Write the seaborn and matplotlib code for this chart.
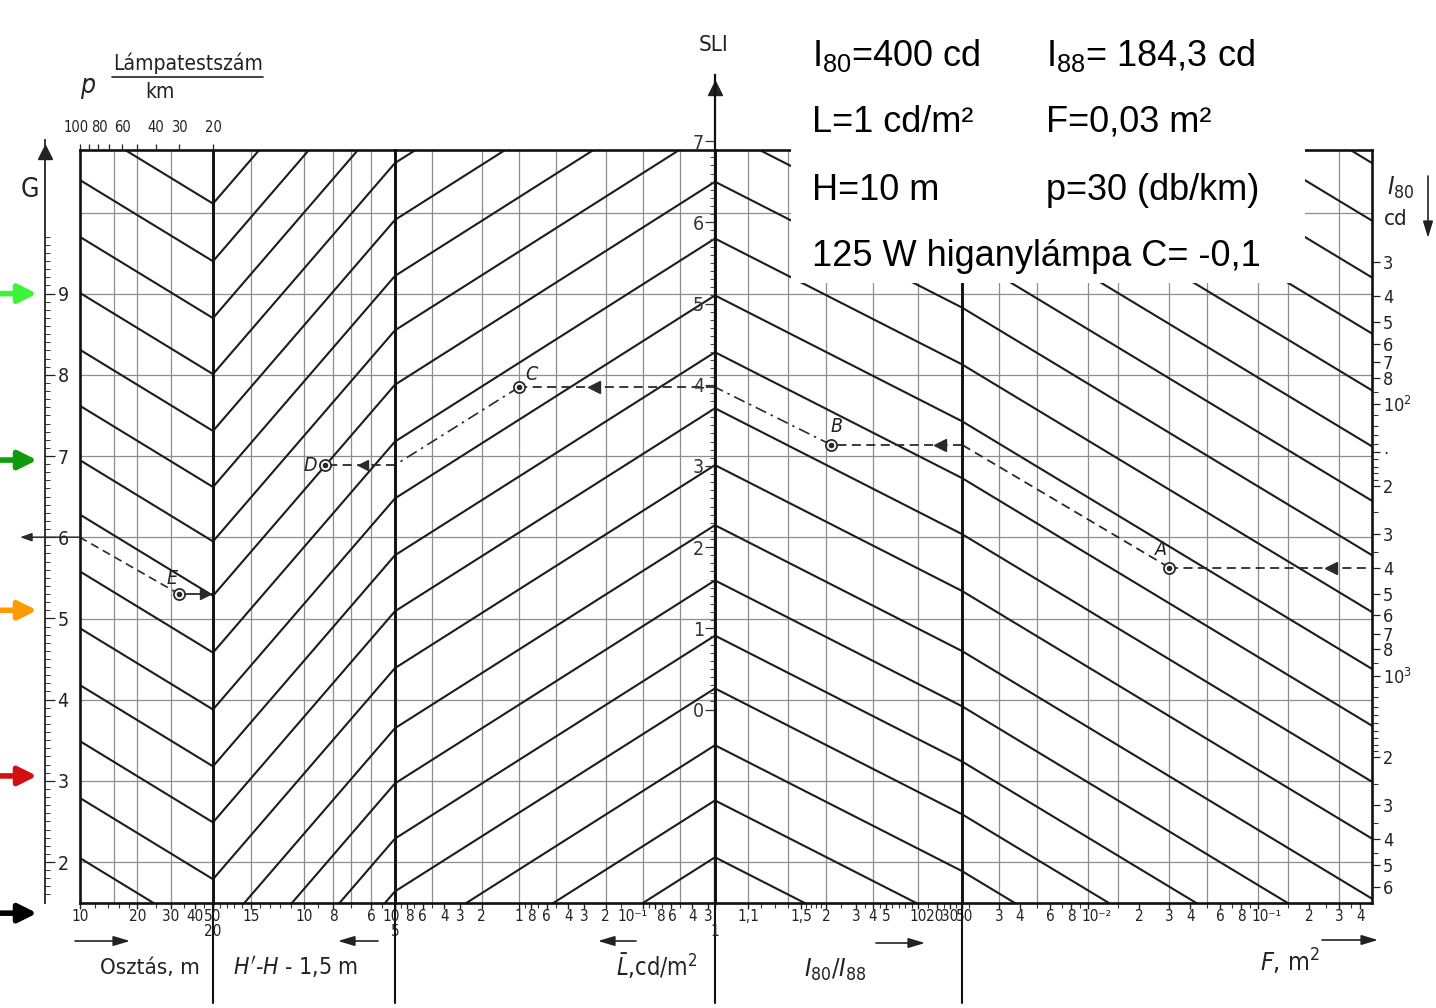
import numpy as np
import pandas as pd
import matplotlib
matplotlib.use("Agg")
import matplotlib.pyplot as plt
from matplotlib import font_manager
from matplotlib.patches import Rectangle
from matplotlib.lines import Line2D
from matplotlib.ticker import NullFormatter
import seaborn as sns


# ////////////////////// DATA

# chevron peaks of the line family on the SLI axis
peak_sli = [11.33, 10.62, 9.92, 9.23, 8.53, 7.84, 7.17, 6.50, 5.80, 5.10,
            4.40, 3.71, 3.01, 2.27, 1.59, 0.91, 0.26, -0.44, -1.12, -1.82]
# change of SLI across each panel, left edge -> right edge
panel_delta = [-1.0, 2.6, 2.5, -1.55, -3.05]

# value at the left / right edge of each panel
osztas_range = [10, 50]
hh_range = [20, 5]
lum_range = [10, 0.0263]
ratio_range = [1, 50]
area_range = [0.00182, 0.468]

# the I80/I88 scale is not logarithmic: values and distance (px) from the SLI axis
ratio_vals = [1, 1.1, 1.5, 2, 3, 4, 5, 10, 20, 30, 50]
ratio_pos = [0, 33, 86, 111, 141, 158, 171, 203, 222, 235, 247]

# vertical grid lines of the panels
osztas_grid = [15, 20, 30]
hh_grid = [15, 10, 8, 7, 6]
lum_grid = [5, 2, 1, 0.5, 0.2, 0.1, 0.05]
ratio_grid = [1.1, 1.4, 2, 4, 10]
area_grid = [0.003, 0.005, 0.01, 0.015, 0.03, 0.05, 0.1, 0.15, 0.3]
# horizontal grid lines sit on whole G values
g_grid = [2, 3, 4, 5, 6, 7, 8, 9, 10]
g_offset = 3.88  # G = SLI + g_offset

# bottom scales
osztas_ticks = [10, 20, 30, 40, 50]
osztas_labels = ["10", "20", "30", "40", "50"]
osztas_minor = [12, 14, 16, 18, 25, 35, 45]

hh_ticks = [20, 15, 10, 8, 6, 5]
hh_labels = ["20", "15", "10", "8", "6", "5"]
hh_minor = [19, 18, 17, 16, 14, 13, 12, 11, 9, 7, 5.5]

lum_ticks = [10, 8, 6, 4, 3, 2, 1, 0.8, 0.6, 0.4, 0.3, 0.2, 0.1, 0.08, 0.06, 0.04, 0.03]
lum_labels = ["10", "8", "6", "4", "3", "2", "1", "8", "6", "4", "3", "2",
              "10⁻¹", "8", "6", "4", "3"]
lum_minor = [9, 7, 5, 0.9, 0.7, 0.5, 0.15, 0.09, 0.07, 0.05]

ratio_ticks = [1, 1.1, 1.5, 2, 3, 4, 5, 10, 20, 30, 50]
ratio_labels = ["1", "1,1", "1,5", "2", "3", "4", "5", "10", "20", "30", "50"]
ratio_minor = [1.2, 1.3, 1.4, 1.6, 1.7, 1.8, 1.9, 2.5, 3.5, 4.5, 6, 7, 8, 9, 15, 25, 40]

area_ticks = [0.003, 0.004, 0.006, 0.008, 0.01, 0.02, 0.03, 0.04, 0.06, 0.08, 0.1, 0.2, 0.3, 0.4]
area_labels = ["3", "4", "6", "8", "10⁻²", "2", "3", "4", "6", "8", "10⁻¹", "2", "3", "4"]
area_minor = [0.002, 0.005, 0.007, 0.009, 0.015, 0.05, 0.07, 0.09, 0.15, 0.25, 0.35]

# top scale: lamps per km
p_ticks = [100, 80, 60, 40, 30, 20]
p_labels = ["100", "80", "60", "40", "30", "20"]
p_minor = [90, 70, 50]

# right scale: I80 in cd
i80_ticks = [30, 40, 50, 60, 70, 80, 100, 150, 200, 300, 400, 500, 600, 700, 800,
             1000, 2000, 3000, 4000, 5000, 6000]
i80_labels = ["3", "4", "5", "6", "7", "8", "$10^2$", "·", "2", "3", "4", "5", "6", "7", "8",
              "$10^3$", "2", "3", "4", "5", "6"]
i80_minor = [90, 110, 120, 130, 140, 160, 170, 180, 190, 250, 350, 900,
             1100, 1200, 1300, 1400, 1500, 1600, 1700, 1800, 1900, 2500, 3500, 4500]

g_ticks = [2, 3, 4, 5, 6, 7, 8, 9]
sli_ticks = [0, 1, 2, 3, 4, 5, 6, 7]

# worked example (dashed path A -> E)
i80_value = 400
area_value = 0.03
ratio_value = 2.17
lum_value = 1.0
hh_value = 8.5
osztas_value = 33.3
g_value = 6.0
sli_A = 1.75
sli_B = 3.26
sli_C = 3.97
sli_D = 3.01
sli_E = 1.42

# coloured markers on the left edge (G values)
marker_g = [9.0, 6.95, 5.1, 3.06, 1.37]
marker_colors = ["#3af53a", "#109a10", "#ff9a00", "#d21010", "#000000"]

box_lines = [
    (r"I$_{80}$=400 cd", r"I$_{88}$= 184,3 cd"),
    ("L=1 cd/m²", "F=0,03 m²"),
    ("H=10 m", "p=30 (db/km)"),
]
box_last = "125 W higanylámpa C= -0,1"


# ////////////////////// LAYOUT (pixels of the 1436x1008 picture)

W, H, DPI = 1436, 1008, 100
FR_T, FR_B = 150, 903
BOUNDS = [80, 213, 395, 715, 962, 1372]
SLI0_PX, SLI_UNIT = 709.5, 81.2
G2_PX = 862

LINE_C = "#1c1c1c"
GRID_C = "#8e8e8e"

# crowded scale labels: index -> (shift in points, alignment, row)
hh_place = {0: (0, "center", 1), 5: (0, "center", 1)}
lum_place = {0: (-2.5, "center", 0), 1: (1.5, "center", 0), 12: (3, "right", 0),
             13: (4, "center", 0), 14: (1.5, "center", 0)}
ratio_place = {0: (0, "center", 1), 8: (-1.5, "center", 0), 10: (2, "center", 0)}
area_place = {4: (-4.5, "left", 0), 10: (-4.5, "left", 0)}
p_place = {0: (-3, "center", 0), 1: (1, "center", 0)}


def fx(px):
    return px / W


def fy(py):
    return 1 - py / H


def sli_at(py):
    return (SLI0_PX - py) / SLI_UNIT


def g_at(py):
    return 2 + (G2_PX - py) / SLI_UNIT


def i80_at(py):
    return 100 * 10 ** ((py - 404) / 271.6)


# pick a narrow face for the drawing's lettering if one is installed
installed = {(f.name, f.stretch) for f in font_manager.fontManager.ttflist}
names = {n for n, _ in installed}
if "Liberation Sans Narrow" in names:
    SCAN_FONT, SCAN_STRETCH = "Liberation Sans Narrow", "normal"
elif ("DejaVu Sans", "condensed") in installed:
    SCAN_FONT, SCAN_STRETCH = "DejaVu Sans", "condensed"
else:
    SCAN_FONT, SCAN_STRETCH = "Roboto", "normal"

sns.set_style("white")
plt.rcParams["font.family"] = [SCAN_FONT, "DejaVu Sans"]
plt.rcParams["font.stretch"] = SCAN_STRETCH
plt.rcParams["mathtext.default"] = "regular"
plt.rcParams["text.color"] = "#222222"

fig = plt.figure(figsize=(W / DPI, H / DPI), dpi=DPI)
fig.patch.set_facecolor("white")


def scale_labels(ax, values, texts, place, top=False, size=11):
    trans = ax.get_xaxis_transform()
    for i, (v, t) in enumerate(zip(values, texts)):
        dx, ha, row = place.get(i, (0, "center", 0))
        if top:
            ax.annotate(t, (v, 1), xycoords=trans, xytext=(dx, 16.5), textcoords="offset points",
                        ha=ha, va="center", fontsize=size, annotation_clip=False)
        else:
            dy = -10 - 10.5 * row
            ax.annotate(t, (v, 0), xycoords=trans, xytext=(dx, dy), textcoords="offset points",
                        ha=ha, va="center", fontsize=size, annotation_clip=False)


# ////////////////////// PANELS

edges = [osztas_range, hh_range, lum_range, ratio_range, area_range]
panels = []
for i in range(5):
    ax = fig.add_axes([fx(BOUNDS[i]), fy(FR_B), (BOUNDS[i + 1] - BOUNDS[i]) / W, (FR_B - FR_T) / H])
    ax.set_facecolor("none")
    panels.append(ax)
ax1, ax2, ax3, ax4, ax5 = panels

ax1.set_xscale("log")
ax2.set_xscale("log")
ax3.set_xscale("log")
ax4.set_xscale("function", functions=(lambda v: np.interp(v, ratio_vals, ratio_pos),
                                      lambda p: np.interp(p, ratio_pos, ratio_vals)))
ax5.set_xscale("log")

# family lines: every chain is the same zig-zag shifted in SLI
rows = []
for k, peak in enumerate(peak_sli):
    y3 = peak
    y2 = y3 - panel_delta[2]
    y1 = y2 - panel_delta[1]
    y0 = y1 - panel_delta[0]
    y4 = y3 + panel_delta[3]
    y5 = y4 + panel_delta[4]
    ys = [y0, y1, y2, y3, y4, y5]
    for i in range(5):
        rows.append({"panel": i, "line": k, "x": edges[i][0], "y": ys[i]})
        rows.append({"panel": i, "line": k, "x": edges[i][1], "y": ys[i + 1]})
lines_df = pd.DataFrame(rows)

grids = [osztas_grid, hh_grid, lum_grid, ratio_grid, area_grid]
for i, ax in enumerate(panels):
    for g in g_grid:
        ax.axhline(g - g_offset, color=GRID_C, lw=0.9, zorder=1)
    for v in grids[i]:
        ax.axvline(v, color=GRID_C, lw=0.9, zorder=1)
    sns.lineplot(data=lines_df[lines_df["panel"] == i], x="x", y="y", units="line",
                 estimator=None, color=LINE_C, lw=1.5, ax=ax, legend=False, zorder=2)
    ax.set_xlim(*edges[i])
    ax.set_ylim(sli_at(FR_B), sli_at(FR_T))
    ax.set_xlabel("")
    ax.set_ylabel("")
    ax.set_yticks([])
    for s in ax.spines.values():
        s.set_visible(True)
        s.set_color("#111111")
        s.set_linewidth(1.9)
    # separators run below the frame
    if i > 0:
        ax.plot([0, 0], [0, -0.133], transform=ax.transAxes, color="#111111",
                lw=1.5, clip_on=False)

ticks = [(osztas_ticks, osztas_labels, osztas_minor, {}),
         (hh_ticks, hh_labels, hh_minor, hh_place),
         (lum_ticks, lum_labels, lum_minor, lum_place),
         (ratio_ticks, ratio_labels, ratio_minor, ratio_place),
         (area_ticks, area_labels, area_minor, area_place)]
for ax, (major, labels, minor, place) in zip(panels, ticks):
    ax.set_xticks(major)
    ax.set_xticks(minor, minor=True)
    ax.xaxis.set_minor_formatter(NullFormatter())
    ax.tick_params(axis="x", which="major", bottom=True, top=False, labelbottom=False,
                   direction="out", length=4.5, width=1, colors="#222222")
    ax.tick_params(axis="x", which="minor", bottom=True, top=False, direction="out",
                   length=3.5, width=0.8, colors="#333333")
    scale_labels(ax, major, labels, place)

# top scale p (lamps / km)
ax1t = ax1.twiny()
ax1t.set_xscale("log")
ax1t.set_xlim(p_ticks[0], p_ticks[-1])
ax1t.set_xticks(p_ticks)
ax1t.set_xticks(p_minor, minor=True)
ax1t.xaxis.set_minor_formatter(NullFormatter())
ax1t.tick_params(axis="x", which="both", top=True, bottom=False, labeltop=False,
                 direction="out", length=4.5, width=0.9, colors="#222222")
for s in ax1t.spines.values():
    s.set_visible(False)
scale_labels(ax1t, p_ticks, p_labels, p_place, top=True, size=10.5)

# right scale I80
ax5t = ax5.twinx()
ax5t.set_yscale("log")
ax5t.set_ylim(i80_at(FR_B), i80_at(FR_T))
ax5t.set_yticks(i80_ticks, labels=i80_labels)
ax5t.set_yticks(i80_minor, minor=True)
ax5t.yaxis.set_minor_formatter(NullFormatter())
ax5t.tick_params(axis="y", which="major", right=True, left=False, direction="out",
                 length=6, width=0.9, pad=2, labelsize=13, colors="#222222")
ax5t.tick_params(axis="y", which="minor", right=True, left=False, direction="out",
                 length=4, width=0.8, colors="#333333")
for s in ax5t.spines.values():
    s.set_visible(False)
ax5.set_yticks([])
ax5.tick_params(axis="y", left=False, right=False)

# ////////////////////// G AXIS (left) AND SLI AXIS (middle)

ax_g = fig.add_axes([fx(45) - 0.02, fy(FR_B), 0.02, (FR_B - 140) / H])
ax_g.set_facecolor("none")
ax_g.set_ylim(g_at(FR_B), g_at(140))
ax_g.set_xticks([])
for name, s in ax_g.spines.items():
    s.set_visible(name == "right")
ax_g.spines["right"].set_linewidth(1.3)
ax_g.spines["right"].set_color("#222222")
ax_g.yaxis.tick_right()
ax_g.set_yticks(g_ticks, labels=[str(v) for v in g_ticks])
ax_g.set_yticks(np.arange(1.6, 9.75, 0.1), minor=True)
ax_g.tick_params(axis="y", which="major", right=True, left=False, labelright=True,
                 labelleft=False, direction="out", length=7, width=0.9, pad=2,
                 labelsize=14, colors="#222222")
ax_g.tick_params(axis="y", which="minor", right=True, left=False, direction="out",
                 length=3.5, width=0.7, colors="#333333")
ax_g.plot([1], [g_at(152)], marker="^", ms=10, color="#222222",
          transform=ax_g.get_yaxis_transform(), clip_on=False)

ax_s = fig.add_axes([fx(BOUNDS[3]), fy(FR_B), 0.02, (FR_B - 75) / H])
ax_s.set_facecolor("none")
ax_s.set_ylim(sli_at(FR_B), sli_at(75))
ax_s.set_xticks([])
for name, s in ax_s.spines.items():
    s.set_visible(name == "left")
ax_s.spines["left"].set_linewidth(1.6)
ax_s.spines["left"].set_color("#111111")
ax_s.set_yticks(sli_ticks, labels=[str(v) for v in sli_ticks])
ax_s.set_yticks(np.arange(0, 7.01, 0.1), minor=True)
ax_s.tick_params(axis="y", which="major", left=True, right=False, labelleft=True,
                 direction="out", length=7, width=0.9, pad=1, labelsize=14, colors="#333333")
ax_s.tick_params(axis="y", which="minor", left=True, right=False, direction="out",
                 length=3.5, width=0.7, colors="#444444")
ax_s.plot([0], [sli_at(88)], marker="^", ms=10, color="#222222",
          transform=ax_s.get_yaxis_transform(), clip_on=False)

# ////////////////////// WORKED EXAMPLE (dashed path)

DASH = (0, (5, 3))
DASHDOT = (0, (7, 3, 1.5, 3))
PATH_C = "#2a2a2a"


def point(ax, x, y, letter, dx, dy):
    ax.plot([x], [y], marker="o", ms=8, mfc="white", mec=PATH_C, mew=1.3, zorder=5)
    ax.plot([x], [y], marker="o", ms=3, color=PATH_C, zorder=6)
    ax.annotate(letter, (x, y), xytext=(dx, dy), textcoords="offset points",
                fontsize=14, style="italic", ha="center", va="center")


ax5t.plot([area_value, area_range[1]], [i80_value, i80_value], ls=DASH, color=PATH_C, lw=1.3)
ax5t.plot([0.27], [i80_value], marker="<", ms=8, color=PATH_C)
point(ax5t, area_value, i80_value, "A", -6, 13)
ax5.plot([area_value, area_range[0]], [sli_A, sli_B], ls=DASH, color=PATH_C, lw=1.3)

ax4.plot([ratio_range[1], ratio_value], [sli_B, sli_B], ls=DASH, color=PATH_C, lw=1.3)
ax4.plot([22], [sli_B], marker="<", ms=8, color=PATH_C)
ax4.plot([ratio_value, ratio_range[0]], [sli_B, sli_C], ls=DASHDOT, color=PATH_C, lw=1.2)
point(ax4, ratio_value, sli_B, "B", 4, 13)

ax3.plot([lum_range[1], lum_value], [sli_C, sli_C], ls=DASH, color=PATH_C, lw=1.3)
ax3.plot([0.25], [sli_C], marker="<", ms=8, color=PATH_C)
ax3.plot([lum_value, lum_range[0]], [sli_C, sli_D], ls=DASHDOT, color=PATH_C, lw=1.2)
point(ax3, lum_value, sli_C, "C", 9, 9)

ax2.plot([hh_range[1], hh_value], [sli_D, sli_D], ls=DASH, color=PATH_C, lw=1.3)
ax2.plot([6.4], [sli_D], marker="<", ms=7, color=PATH_C)
point(ax2, hh_value, sli_D, "D", -11, 0)

ax1.plot([osztas_value, osztas_range[1]], [sli_E, sli_E], color=PATH_C, lw=1.3)
ax1.plot([45.5], [sli_E], marker=">", ms=7, color=PATH_C)
ax1.plot([osztas_value, osztas_range[0]], [sli_E, g_value - g_offset], ls=DASH, color=PATH_C, lw=1.2)
point(ax1, osztas_value, sli_E, "E", -5, 11)

ax_g.annotate("", xy=(fx(20), g_value), xytext=(fx(80), g_value),
              xycoords=("figure fraction", "data"), textcoords=("figure fraction", "data"),
              arrowprops=dict(arrowstyle="-|>,head_width=0.25,head_length=0.7",
                              color=PATH_C, lw=1.1, shrinkA=0, shrinkB=0),
              annotation_clip=False)

for g, c in zip(marker_g, marker_colors):
    ax_g.annotate("", xy=(fx(37), g), xytext=(fx(0), g),
                  xycoords=("figure fraction", "data"), textcoords=("figure fraction", "data"),
                  arrowprops=dict(arrowstyle="-|>,head_width=0.55,head_length=1.1",
                                  color=c, lw=4, shrinkA=0, shrinkB=0),
                  annotation_clip=False)

# ////////////////////// TEXTS

fig.text(fx(88), fy(86), "p", fontsize=19, style="italic", ha="center", va="center")
fig.text(fx(188), fy(63), "Lámpatestszám", fontsize=15, ha="center", va="center")
fig.add_artist(Line2D([fx(112), fx(263)], [fy(77), fy(77)], color="#222222", lw=1.2))
fig.text(fx(160), fy(92), "km", fontsize=15, ha="center", va="center")
fig.text(fx(714), fy(45), "SLI", fontsize=16, ha="center", va="center")
fig.text(fx(30), fy(190), "G", fontsize=19, ha="center", va="center")
fig.text(fx(1401), fy(188), r"$\mathit{I}_{80}$", fontsize=18, ha="center", va="center")
fig.text(fx(1396), fy(219), "cd", fontsize=16, ha="center", va="center")

fig.text(fx(150), fy(968), "Osztás, m", fontsize=16, ha="center", va="center")
fig.text(fx(296), fy(968), r"$\mathit{H'}$-$\mathit{H}$ - 1,5 m", fontsize=16.5,
         ha="center", va="center")
fig.text(fx(657), fy(966), r"$\mathit{\bar{L}}$,cd/m$^2$", fontsize=17, ha="center", va="center")
fig.text(fx(835), fy(970), r"$\mathit{I}_{80}/\mathit{I}_{88}$", fontsize=18,
         ha="center", va="center")
fig.text(fx(1290), fy(962), r"$\mathit{F}$, m$^2$", fontsize=18, ha="center", va="center")

bottom_arrows = [(75, 130, 941), (378, 338, 941), (636, 598, 941), (876, 925, 943),
                 (1322, 1378, 940)]
for x0, x1, yy in bottom_arrows:
    fig.add_artist(plt.Annotation("", xy=(fx(x1), fy(yy)), xytext=(fx(x0), fy(yy)),
                                  xycoords="figure fraction", textcoords="figure fraction",
                                  arrowprops=dict(arrowstyle="-|>,head_width=0.3,head_length=1.0",
                                                  color="#222222", lw=1.2, shrinkA=0, shrinkB=0)))
fig.add_artist(plt.Annotation("", xy=(fx(1428), fy(238)), xytext=(fx(1428), fy(176)),
                              xycoords="figure fraction", textcoords="figure fraction",
                              arrowprops=dict(arrowstyle="-|>,head_width=0.3,head_length=1.0",
                                              color="#222222", lw=1.2, shrinkA=0, shrinkB=0)))

# white box with the input data
fig.add_artist(Rectangle((fx(791), fy(283)), (1305 - 791) / W, 283 / H, transform=fig.transFigure,
                         facecolor="white", edgecolor="none", zorder=10))
box_rows_y = [55, 122, 190]
for (left, right), yy in zip(box_lines, box_rows_y):
    fig.text(fx(812), fy(yy), left, fontsize=26, family="Liberation Sans", stretch="normal",
             ha="left", va="center", color="black", zorder=11)
    fig.text(fx(1046), fy(yy), right, fontsize=26, family="Liberation Sans", stretch="normal",
             ha="left", va="center", color="black", zorder=11)
fig.text(fx(812), fy(257), box_last, fontsize=26, family="Liberation Sans", stretch="normal",
         ha="left", va="center", color="black", zorder=11)

fig.savefig("out.png", dpi=DPI)
